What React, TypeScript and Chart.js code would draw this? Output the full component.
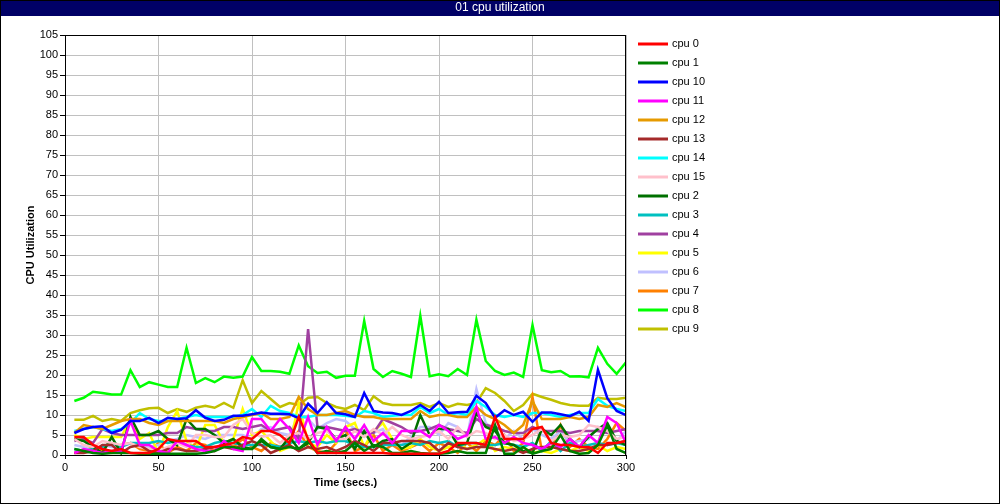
import React, { useEffect, useRef } from "react";
import { Chart, registerables } from "chart.js";

Chart.register(...registerables);

const times = [5, 10, 15, 20, 25, 30, 35, 40, 45, 50, 55, 60, 65, 70, 75, 80, 85, 90, 95, 100,
  105, 110, 115, 120, 125, 130, 135, 140, 145, 150, 155, 160, 165, 170, 175, 180, 185, 190, 195, 200,
  205, 210, 215, 220, 225, 230, 235, 240, 245, 250, 255, 260, 265, 270, 275, 280, 285, 290, 295, 300];

const cpu0 = [4.5, 4.5, 2.5, 1.5, 1, 1.5, 0.5, 0.5, 0.5, 1.5, 4, 3.5, 3.5, 3.5, 2, 2, 2.5, 3, 4.5, 4,
  6, 6, 5, 3, 9.5, 4, 0.5, 0.5, 0.5, 0.5, 0.5, 0.5, 0.5, 0.5, 0.3, 0.3, 0.3, 0.3, 0.3, 0.3,
  1, 3, 3, 3, 2.5, 9.5, 4, 4, 4, 6.5, 7, 3, 2.5, 2.5, 2, 2, 0.5, 3, 3, 3.5];
const cpu1 = [1.5, 1, 0.5, 0.3, 0.5, 0.5, 0.5, 0.3, 0.3, 0.3, 0.3, 0.3, 0.3, 0.3, 0.5, 1, 2, 2, 1.5, 1.5,
  4, 2, 1.5, 2, 1.5, 3.5, 0.5, 1, 0.5, 1, 3, 1, 2.5, 2, 0.5, 0.5, 1, 0.5, 0.3, 0.3,
  0.5, 1, 0.5, 0.5, 0.5, 7.5, 0.3, 0.3, 2, 0.3, 1, 1.5, 5, 1, 0.3, 0.5, 2.5, 7.5, 1.5, 0.5];
const cpu10 = [5.5, 6.5, 7, 7.2, 5.5, 6.3, 8.5, 8.5, 9.3, 8, 9.3, 9, 9.2, 11.2, 9.3, 8.5, 8.8, 9.8, 9.8, 10.2,
  10.6, 10.3, 10.3, 10.2, 9.2, 12.8, 10.5, 13.2, 10.5, 10.2, 9.5, 15.5, 11, 10.6, 10.5, 10, 11, 12.5, 11, 13.3,
  10.5, 10.7, 10.8, 14.8, 13, 9.3, 11.2, 10, 10.8, 8.3, 10.6, 10.6, 10.2, 9.7, 10.8, 8.5, 21.3, 14.2, 11, 10];
const cpu11 = [0.5, 1.5, 1, 0.5, 1, 1, 8.5, 2.5, 2.5, 1, 0.5, 3.5, 2.5, 1.5, 1, 1, 3.5, 1.5, 1, 9,
  9, 6, 9, 6.5, 3, 9.5, 2.5, 7, 3.5, 7, 4, 7.5, 3.5, 5.5, 3, 6, 6, 6, 4.5, 7.5,
  6, 4, 5, 12, 4, 4.5, 3, 4.5, 3, 2.5, 1.5, 3, 2, 4, 2, 5, 3, 9.5, 8, 3];
const cpu12 = [5.5, 7.5, 7, 6.5, 7.5, 8.5, 9, 9, 8, 7.5, 8.5, 8.5, 8.5, 8.5, 8.5, 8.5, 8, 9, 9.5, 10,
  10.5, 9, 9, 9.5, 14.5, 11.5, 10, 10, 10.5, 11, 10, 9.5, 9.5, 9, 9, 9, 9, 11, 9.5, 10,
  10, 9.5, 9.5, 12, 10, 9, 7.5, 5.5, 7.5, 13.5, 9, 9, 9, 9.5, 9, 9.5, 12.5, 12, 13, 12];
const cpu13 = [0.5, 0.5, 1, 2.5, 2.5, 0.5, 2, 2.5, 1, 0.5, 1.5, 1.5, 1, 1, 1.5, 2, 2, 1.5, 2.5, 3.5,
  2.5, 0.5, 1.5, 2.5, 1, 2, 1.5, 2, 1, 2, 3.5, 2.5, 1, 3, 3, 3.5, 3.5, 3.5, 3, 1,
  3, 2, 1.5, 2, 2, 1.5, 1, 1.5, 0.5, 1.5, 2, 2, 1.5, 1, 1, 1.5, 2.5, 2.5, 3, 3.5];
const cpu14 = [6, 6.5, 7, 6.5, 6, 6.5, 8, 10.5, 9, 8.5, 8.5, 9, 9.5, 10, 9.5, 9.5, 9.5, 9.5, 10, 11.5,
  9.5, 12.3, 11, 10.5, 9.5, 9.5, 10, 10, 10, 9.8, 9.5, 11, 10.5, 9.5, 9.8, 10, 10, 12, 10.5, 11.5,
  10, 10.5, 10, 13.5, 12, 10, 9.5, 10, 9.5, 10.5, 10.5, 10, 9.5, 10, 10.5, 10.5, 14, 12.3, 11.5, 11];
const cpu15 = [4, 2.5, 2, 3.5, 3, 2.5, 3, 2, 1.5, 1, 2, 3, 2, 5, 5, 4.5, 4.5, 7.5, 9, 5.5,
  4.5, 5, 3, 5, 5.5, 4, 5.5, 6, 4, 4, 6, 4.5, 6.5, 5, 7, 5, 4, 4.5, 5, 6,
  4, 7, 4.5, 6, 5.5, 4, 5, 3.5, 4, 5, 6.5, 3.5, 5, 4.5, 5, 7.5, 7, 6, 4, 4.5];
const cpu2 = [4, 3.5, 2, 0.5, 4.5, 0.5, 9.5, 5, 5, 6, 4, 2.5, 9, 6.5, 6.5, 5, 3, 4, 2, 1.5,
  3.5, 2, 1.5, 4.5, 1.5, 3, 7, 6.5, 4, 5, 1.5, 6, 2, 3.5, 4, 1.5, 3, 10, 5, 6.5,
  6.5, 2.5, 3, 10.5, 7, 6, 3, 2.5, 1, 0.5, 6.5, 5, 7.5, 4, 2, 4.5, 6.5, 8, 3.5, 2.5];
const cpu3 = [1.5, 1, 1.5, 2, 3, 2, 3, 3, 3, 3.5, 3, 3.5, 2.5, 2, 2, 3, 3.5, 3, 2.5, 2.5,
  2.5, 2.5, 2, 3, 3.5, 3, 3.5, 3, 3.5, 3.5, 2.5, 2, 2, 2.5, 2.5, 2.5, 3, 2.5, 3.5, 3,
  3.5, 2, 3, 3, 2.5, 2.5, 3, 2.5, 2, 3, 1, 3.5, 1, 3, 2, 2.5, 3, 2.5, 3, 2.5];
const cpu4 = [3.5, 4, 3, 6.5, 5.5, 5, 5, 5, 5, 5, 5.5, 5.5, 7, 6.5, 6, 6, 7, 7, 6.5, 7,
  7.5, 6, 6.5, 7, 4, 31.5, 7, 7, 6.5, 6, 6.5, 5.5, 5.5, 9, 8, 7, 5.5, 6, 6.5, 7.5,
  6.5, 6, 5.5, 9, 7.5, 7, 6, 5.5, 5.5, 7, 6, 6, 6, 5.5, 6, 6, 6, 5.5, 6, 6.5];
const cpu5 = [5, 4, 4.5, 4.5, 4.5, 4.5, 9, 4, 5.5, 0.5, 7, 11, 3.5, 1.5, 7.5, 7.5, 3, 4, 11.5, 5,
  6, 3.5, 1, 2, 13, 3, 2, 5, 3, 7, 8, 2, 6, 8, 4, 1.5, 2, 4, 2, 1,
  2, 3, 1.5, 2.5, 4, 1, 2, 1.5, 2, 0.5, 1, 0.5, 1.5, 1, 2, 1, 2.5, 1, 2, 1.5];
const cpu6 = [2.5, 2, 1, 2.5, 2, 2, 3, 2.5, 2, 2.5, 3.5, 4, 5, 4.5, 4, 5, 5, 5, 5, 4,
  6.5, 7, 5.5, 5, 10, 9, 6.5, 8, 9, 8.5, 6.5, 6, 5.5, 6.5, 3, 2.5, 4.5, 7, 7, 5,
  8, 7, 4.5, 16.5, 8, 6, 4, 6, 4, 6.5, 5, 4, 6, 3, 3.5, 4, 7, 6.5, 3.5, 6];
const cpu7 = [0.5, 1, 2, 1, 0.5, 2.5, 3, 1.5, 1, 3, 0.5, 2, 1, 3, 2.5, 1, 3, 2, 4, 2,
  1, 3, 2, 3, 6, 2, 1, 0.5, 3, 6.5, 1, 2, 5, 1, 2.5, 1, 2, 3, 1, 3,
  2, 0.5, 3, 1, 3.5, 2.5, 5, 1, 3, 14.5, 1, 1.5, 7.5, 2, 4, 2, 1.5, 4, 8, 6];
const cpu8 = [13.5, 14.3, 15.8, 15.5, 15.1, 15.1, 21.2, 17, 18.2, 17.6, 17, 17, 26.8, 18, 19.2, 18.2, 19.6, 19.3, 19.6, 24.5,
  21, 21, 20.8, 20.3, 27.4, 22.2, 20.5, 20.8, 19.3, 19.8, 19.8, 33.5, 21.5, 19.5, 21, 20.3, 19.5, 34.8, 19.7, 20.2,
  19.7, 21.5, 20, 33.8, 23.5, 21, 20, 20.6, 19.5, 32.5, 21.2, 20.7, 21, 19.6, 19.7, 19.4, 26.8, 22.8, 20.3, 23.2];
const cpu9 = [8.8, 8.8, 9.8, 8.5, 9, 8.5, 10.5, 11.2, 11.7, 11.8, 10.5, 11.5, 10.8, 11.8, 12.3, 11.8, 13, 11.8, 18.7, 13,
  16, 14, 12, 13, 12.5, 14.3, 14.5, 13, 12, 11.5, 12.5, 11.2, 14.7, 13, 12.5, 12.5, 12.5, 13, 12, 13,
  12, 12.8, 12.5, 13, 16.7, 15.5, 13.5, 11, 12.5, 15.3, 14.5, 13.8, 13, 12.5, 12.3, 12.3, 14.3, 14, 14, 14.3];

const seriesLabels = ["cpu 0", "cpu 1", "cpu 10", "cpu 11", "cpu 12", "cpu 13", "cpu 14", "cpu 15",
  "cpu 2", "cpu 3", "cpu 4", "cpu 5", "cpu 6", "cpu 7", "cpu 8", "cpu 9"];
const seriesValues = [cpu0, cpu1, cpu10, cpu11, cpu12, cpu13, cpu14, cpu15,
  cpu2, cpu3, cpu4, cpu5, cpu6, cpu7, cpu8, cpu9];
const seriesColors = ["#FF0000", "#008000", "#0000FF", "#FF00FF", "#E69A00", "#A52A2A", "#00FFFF", "#FFC0CB",
  "#007000", "#00C0C0", "#A040A0", "#FFFF00", "#C0C0FF", "#FF8000", "#00FF00", "#C0C000"];

const xTicks = [0, 50, 100, 150, 200, 250, 300];
const chartTitle = "01 cpu utilization";
const xTitle = "Time (secs.)";
const yTitle = "CPU Utilization";

const FONT = "'Liberation Sans', Arial, sans-serif";

const framePlugin = {
  id: "frame",
  beforeDraw(chart: any) {
    const ctx = chart.ctx;
    ctx.save();
    ctx.fillStyle = "#FFFFFF";
    ctx.fillRect(0, 0, chart.width, chart.height);
    ctx.restore();
  },
  afterDraw(chart: any) {
    const ctx = chart.ctx;
    const a = chart.chartArea;
    ctx.save();
    // plot border
    ctx.strokeStyle = "#000000";
    ctx.lineWidth = 1;
    ctx.strokeRect(Math.round(a.left) + 0.5, Math.round(a.top) + 0.5, Math.round(a.right - a.left) - 1, Math.round(a.bottom - a.top));
    // title bar
    ctx.fillStyle = "#000066";
    ctx.fillRect(0, 0, chart.width, 16);
    ctx.fillStyle = "#FFFFFF";
    ctx.font = "12px " + FONT;
    ctx.textAlign = "center";
    ctx.textBaseline = "middle";
    ctx.fillText(chartTitle, chart.width / 2, 8);
    // outer border
    ctx.strokeStyle = "#000000";
    ctx.strokeRect(0.5, 0.5, chart.width - 1, chart.height - 1);
    // legend
    ctx.font = "11px " + FONT;
    ctx.textAlign = "left";
    ctx.textBaseline = "middle";
    chart.data.datasets.forEach((ds: any, i: number) => {
      const y = 44 + 19 * i;
      ctx.strokeStyle = ds.borderColor;
      ctx.lineWidth = 3;
      ctx.beginPath();
      ctx.moveTo(638, y);
      ctx.lineTo(668, y);
      ctx.stroke();
      ctx.fillStyle = "#000000";
      ctx.fillText(ds.label, 672, y);
    });
    ctx.restore();
  },
};

export default function App() {
  const ref = useRef<HTMLCanvasElement | null>(null);
  useEffect(() => {
    if (!ref.current) return;
    const datasets = seriesLabels.map((label, i) => ({
      label,
      data: times.map((t, j) => ({ x: t, y: seriesValues[i][j] })),
      borderColor: seriesColors[i],
      backgroundColor: seriesColors[i],
      borderWidth: 2.5,
      pointRadius: 0,
      tension: 0,
      fill: false,
    }));
    const chart = new Chart(ref.current, {
      type: "line",
      data: { datasets },
      plugins: [framePlugin],
      options: {
        animation: false,
        responsive: false,
        devicePixelRatio: 1,
        layout: { padding: { left: 0, top: 35, right: 374, bottom: 0 } },
        plugins: { legend: { display: false }, title: { display: false }, tooltip: { enabled: false } },
        scales: {
          x: {
            type: "linear",
            min: 0,
            max: 300,
            afterFit: (s: any) => { s.height = 49; },
            afterBuildTicks: (s: any) => { s.ticks = xTicks.map((v) => ({ value: v })); },
            ticks: { color: "#000", font: { family: FONT, size: 11 }, padding: 2, maxRotation: 0 },
            grid: { color: "#C0C0C0", tickColor: "#000", tickLength: 4, lineWidth: 1 },
            border: { color: "#000" },
            title: { display: true, text: xTitle, color: "#000", font: { family: FONT, size: 11, weight: "bold" }, padding: { top: 0, bottom: 14 } },
          },
          y: {
            min: 0,
            max: 105,
            afterFit: (s: any) => { s.width = 65; },
            ticks: { stepSize: 5, color: "#000", font: { family: FONT, size: 11 }, padding: 2 },
            grid: { color: "#C0C0C0", tickColor: "#000", tickLength: 5, lineWidth: 1 },
            border: { color: "#000" },
            title: { display: true, text: yTitle, color: "#000", font: { family: FONT, size: 11, weight: "bold" }, padding: { top: 24, bottom: 0 } },
          },
        },
      } as any,
    });
    return () => chart.destroy();
  }, []);
  return (
    <div style={{ position: "absolute", left: 0, top: 0, width: 1000, height: 504 }}>
      <canvas ref={ref} width={1000} height={504} style={{ display: "block", width: 1000, height: 504 }} />
    </div>
  );
}
